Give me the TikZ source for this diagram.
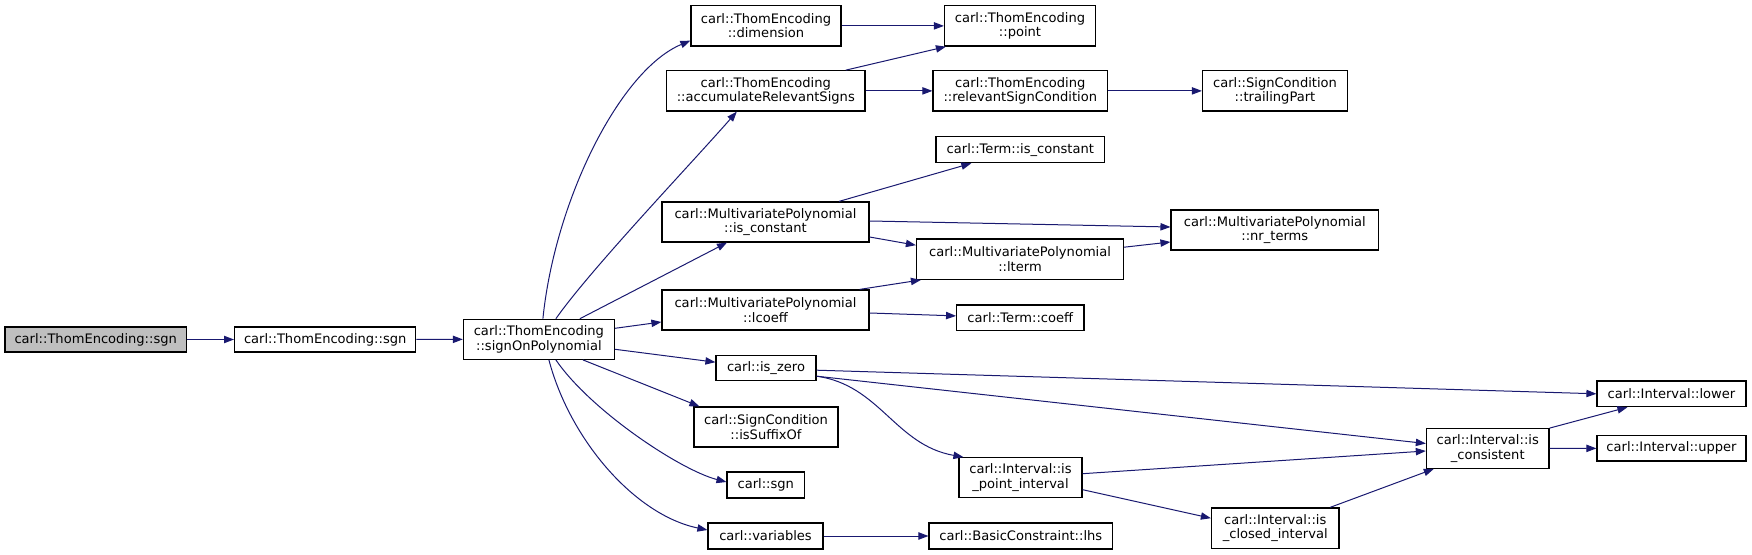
\documentclass[tikz,border=0pt]{standalone}
\usepackage{fontspec}
\setmainfont{DejaVu Sans}
\usetikzlibrary{arrows.meta,calc}
\definecolor{edgec}{HTML}{191970}
\definecolor{rootfill}{HTML}{BFBFBF}
\tikzset{
  box/.style={draw=black, line width=0.9pt, fill=white, inner sep=0pt, align=center,
    font=\fontsize{9.8}{10.8}\selectfont},
  wh/.style 2 args={minimum width=#1*0.75pt, minimum height=#2*0.75pt},
  edge/.style={draw=edgec, line width=0.75pt, -{Triangle[length=7.5pt,width=5.5pt]}}
}
\begin{document}
\begin{tikzpicture}[x=0.75pt, y=-0.75pt]
\useasboundingbox (0,0) rectangle (1752,555);
% nodes
\node[box, wh={181.5}{25}, fill=rootfill] (root) at (95.7,339.5) {carl::ThomEncoding::sgn};
\node[box, wh={181.2}{25}] (tsgn) at (325.2,339.5) {carl::ThomEncoding::sgn};
\node[box, wh={151}{40}] (sop) at (538.9,339.3) {carl::ThomEncoding\\::signOnPolynomial};
\node[box, wh={150}{40.3}] (dim) at (766,25.9) {carl::ThomEncoding\\::dimension};
\node[box, wh={151}{40.3}] (point) at (1020,25.9) {carl::ThomEncoding\\::point};
\node[box, wh={198.5}{40.3}] (acc) at (765.8,90.9) {carl::ThomEncoding\\::accumulateRelevantSigns};
\node[box, wh={174.6}{40.3}] (rsc) at (1020.3,90.9) {carl::ThomEncoding\\::relevantSignCondition};
\node[box, wh={145}{40.3}] (trail) at (1275,90.9) {carl::SignCondition\\::trailingPart};
\node[box, wh={168.5}{26}] (tisc) at (1020.3,149.7) {carl::Term::is\_constant};
\node[box, wh={207}{40}] (mpisc) at (765.5,222) {carl::MultivariatePolynomial\\::is\_constant};
\node[box, wh={207.5}{40}] (nrt) at (1274.8,230) {carl::MultivariatePolynomial\\::nr\_terms};
\node[box, wh={207}{40.3}] (lterm) at (1020,259.2) {carl::MultivariatePolynomial\\::lterm};
\node[box, wh={207}{40}] (lcoeff) at (765.5,310) {carl::MultivariatePolynomial\\::lcoeff};
\node[box, wh={127.3}{25.7}] (tcoeff) at (1020.3,317.9) {carl::Term::coeff};
\node[box, wh={100}{25}] (iszero) at (766,368.2) {carl::is\_zero};
\node[box, wh={144}{40}] (suffix) at (766,427) {carl::SignCondition\\::isSuffixOf};
\node[box, wh={77.5}{26}] (csgn) at (765.8,485) {carl::sgn};
\node[box, wh={115}{26}] (vars) at (765.5,536) {carl::variables};
\node[box, wh={183.5}{26}] (lhs) at (1020.8,536) {carl::BasicConstraint::lhs};
\node[box, wh={123}{40}] (ipi) at (1020.5,477.7) {carl::Interval::is\\\_point\_interval};
\node[box, wh={127.5}{40.5}] (ici) at (1275.2,528.2) {carl::Interval::is\\\_closed\_interval};
\node[box, wh={122.6}{39.6}] (isc) at (1487.7,448.5) {carl::Interval::is\\\_consistent};
\node[box, wh={149}{25.7}] (lower) at (1671.5,393.8) {carl::Interval::lower};
\node[box, wh={149}{25.3}] (upper) at (1671.5,448.3) {carl::Interval::upper};
% edges
\draw[edge] (root) -- (tsgn);
\draw[edge] (tsgn) -- (sop);
\draw[edge] ($(sop.north)+(4,0)$) .. controls (555,200) and (620,70) .. ($(dim.south west)+(0,-6)$);
\draw[edge] ($(sop.north)+(17,0)$) .. controls (590,270) and (690,165) .. ($(acc.south)+(-29,0)$);
\draw[edge] ($(sop.north)+(41,0)$) -- ($(mpisc.south)+(-38.5,0)$);
\draw[edge] ($(sop.east)+(0,-11)$) -- ($(lcoeff.west)+(0,12)$);
\draw[edge] ($(sop.east)+(0,10)$) -- ($(iszero.west)+(0,-6)$);
\draw[edge] ($(sop.south)+(44,0)$) -- ($(suffix.north west)+(6,0)$);
\draw[edge] ($(sop.south)+(17,0)$) .. controls (590,410) and (680,470) .. ($(csgn.west)+(0,-3)$);
\draw[edge] ($(sop.south)+(10,0)$) .. controls (570,440) and (635,515) .. ($(vars.west)+(0,-6)$);
\draw[edge] (dim) -- (point);
\draw[edge] ($(acc.north)+(80,0)$) -- ($(point.south west)+(2,0)$);
\draw[edge] (acc) -- (rsc);
\draw[edge] (rsc) -- (trail);
\draw[edge] ($(mpisc.north)+(73.5,0)$) -- ($(tisc.south)+(-49,0)$);
\draw[edge] ($(mpisc.east)+(0,-1)$) -- ($(nrt.west)+(0,-3)$);
\draw[edge] ($(mpisc.east)+(0,15)$) -- ($(lterm.west)+(0,-14)$);
\draw[edge] ($(lterm.east)+(0,-12)$) -- ($(nrt.west)+(0,12)$);
\draw[edge] ($(lcoeff.north east)+(-10,0)$) -- ($(lterm.south west)+(5,0)$);
\draw[edge] ($(lcoeff.east)+(0,3)$) -- ($(tcoeff.west)+(0,-2)$);
\draw[edge] ($(iszero.east)+(0,2)$) -- (lower.west);
\draw[edge] ($(iszero.east)+(0,8)$) -- ($(isc.west)+(0,-5)$);
\draw[edge] ($(iszero.east)+(0,8)$) .. controls (880,385) and (895,445) .. ($(ipi.north west)+(5,0)$);
\draw[edge] ($(ipi.east)+(0,-4)$) -- ($(isc.west)+(0,2.5)$);
\draw[edge] ($(ipi.east)+(0,12)$) -- ($(ici.west)+(0,-10)$);
\draw[edge] ($(ici.north)+(55,0)$) -- ($(isc.south west)+(8,0)$);
\draw[edge] (isc.north east) -- ($(lower.south west)+(31,0)$);
\draw[edge] (isc) -- (upper);
\draw[edge] (vars) -- (lhs);
\end{tikzpicture}
\end{document}
